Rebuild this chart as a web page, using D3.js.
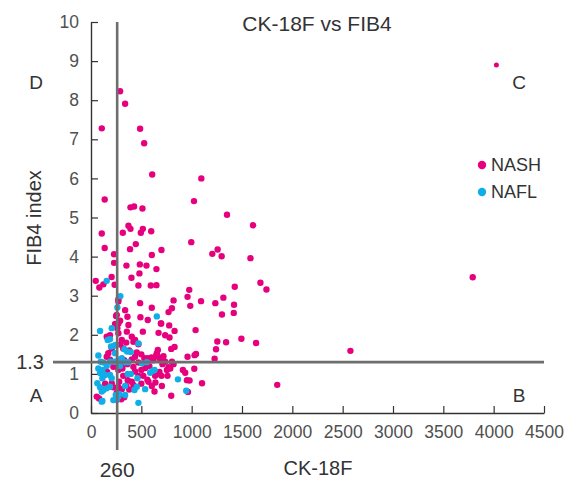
<!DOCTYPE html>
<html>
<head>
<meta charset="utf-8">
<script src="https://cdn.jsdelivr.net/npm/d3@7"></script>
<style>
  body { margin: 0; background: #fff; }
  svg text { font-family: "Liberation Sans", Arial, sans-serif; }
</style>
</head>
<body>
<div id="chart"></div>
<script>
///////////////////////////////////////////////////////////////////////////
//////////////////////////// data /////////////////////////////////////////
///////////////////////////////////////////////////////////////////////////

// [CK-18F, FIB4]
const nashPoints = [
  [289,8.23],[339,7.91],[107,7.28],[488,7.27],[528,6.90],[608,6.10],[1096,6.00],[136,5.46],
  [1023,5.42],[392,5.26],[428,5.28],[511,5.23],[1351,5.07],[1610,4.80],[372,4.79],[392,4.71],
  [515,4.71],[495,4.61],[598,4.65],[316,4.61],[107,4.59],[4027,8.90],[3792,3.47],[2577,1.59],
  [136,4.22],[996,4.37],[445,4.32],[388,4.19],[700,4.17],[229,4.06],[604,4.04],[1205,4.07],
  [1258,4.18],[1298,4.01],[1584,3.96],[229,3.84],[352,3.77],[485,3.80],[551,3.77],[650,3.68],
  [205,3.48],[47,3.38],[83,3.21],[123,3.29],[235,3.28],[402,3.46],[481,3.57],[471,3.26],
  [594,3.26],[650,3.27],[976,3.15],[959,2.97],[1428,3.23],[1683,3.33],[1743,3.16],[1315,2.95],
  [820,2.88],[1093,2.86],[272,2.91],[986,2.74],[1235,2.81],[1421,2.77],[1301,2.52],[1418,2.56],
  [1255,1.83],[1342,1.81],[1494,1.90],[1640,1.79],[1242,1.63],[1228,1.39],[1850,0.72],[1039,2.12],
  [1029,1.48],[1043,1.51],[959,1.44],[1026,1.13],[1103,0.76],[913,1.10],[936,1.03],[953,0.84],
  [979,0.83],[963,0.54],[804,2.68],[770,2.58],[697,2.29],[777,2.24],[830,2.10],[671,2.05],
  [737,1.99],[780,1.93],[797,1.64],[830,1.69],[664,1.61],[648,1.47],[677,1.42],[737,1.31],
  [804,1.31],[820,1.25],[770,1.17],[754,1.10],[787,1.14],[704,0.69],[797,0.44],[488,2.81],
  [604,2.69],[564,2.38],[491,2.45],[515,2.08],[256,2.51],[239,2.28],[289,2.36],[339,2.63],
  [362,2.46],[372,2.25],[272,2.04],[306,1.87],[356,2.08],[405,1.95],[272,2.85],[272,2.29],
  [189,1.99],[172,1.91],[421,1.82],[471,1.76],[438,1.87],[172,1.53],[156,1.44],[189,1.36],
  [405,1.37],[438,1.44],[471,1.29],[654,1.53],[222,1.18],[272,1.10],[312,1.14],[421,1.18],
  [438,1.06],[471,0.95],[637,0.95],[654,1.00],[365,0.84],[405,0.80],[421,0.72],[206,0.76],
  [222,0.66],[571,0.80],[604,0.69],[272,0.66],[306,0.61],[256,0.52],[631,0.55],[57,0.42],
  [80,0.37],[156,1.95],[206,1.65],[290,1.75],[320,1.65],[350,1.80],[380,1.60],[455,1.55],
  [500,1.50],[530,1.40],[560,1.40],[600,1.42],[620,1.35],[580,1.20],[540,1.15],[500,1.10],
  [360,1.25],[330,1.35],[300,1.25],[160,1.05],[140,0.75],[280,0.80],[320,0.95],[350,0.70],
  [380,0.60],[330,0.40],[300,0.35],[500,0.75],[520,0.95],[560,0.85],[640,0.78],[680,1.05],
  [710,1.25],[690,1.35],[720,1.45],[760,0.95],[700,0.95],[249,2.48],[262,2.17],[694,2.29]
];

const naflPoints = [
  [156,3.38],[292,2.99],[262,2.70],[654,2.47],[90,2.10],[206,2.17],[166,1.87],[189,1.89],
  [229,1.72],[246,1.74],[332,1.63],[359,1.57],[395,1.56],[471,1.78],[73,1.47],[306,1.40],
  [97,1.31],[123,1.29],[189,1.31],[232,1.31],[272,1.36],[346,1.30],[372,1.30],[505,1.27],
  [555,1.30],[73,1.14],[113,1.10],[90,1.02],[139,0.97],[113,0.89],[189,0.97],[206,0.89],
  [365,1.00],[395,1.00],[461,0.89],[588,1.03],[614,1.08],[631,1.10],[538,0.61],[63,0.76],
  [90,0.66],[123,0.59],[156,0.63],[189,0.67],[107,0.55],[246,0.46],[272,0.42],[256,0.33],
  [113,0.31],[339,0.46],[432,0.59],[455,0.67],[471,0.26],[864,0.86],[946,0.57],[199,1.70],
  [239,1.53],[339,0.69],[279,0.49],[222,0.33],[107,0.29],[156,1.20],[289,1.20]
];

const xTicks = [0, 500, 1000, 1500, 2000, 2500, 3000, 3500, 4000, 4500];
const yTicks = [0, 1, 2, 3, 4, 5, 6, 7, 8, 9, 10];
const ckCutoff = 260;
const fibCutoff = 1.3;
const quadrants = [
  { label: "D", x: 0, y: 10 },
  { label: "C", x: 1, y: 10 },
  { label: "A", x: 0, y: 0 },
  { label: "B", x: 1, y: 0 }
];
const series = ["NASH", "NAFL"];
const colors = ["#e6007e", "#10aee8"];

///////////////////////////////////////////////////////////////////////////
//////////////////////////// svg + scales /////////////////////////////////
///////////////////////////////////////////////////////////////////////////

const width = 571;
const height = 479;
const margin = { top: 22, right: 27, bottom: 66, left: 91 };

const svg = d3.select("#chart")
  .append("svg")
  .attr("width", width)
  .attr("height", height);

const xScale = d3.scaleLinear()
  .domain([0, 4500])
  .range([margin.left, width - margin.right]);

const yScale = d3.scaleLinear()
  .domain([0, 10])
  .range([height - margin.bottom, margin.top]);

const colorScale = d3.scaleOrdinal().domain(series).range(colors);

///////////////////////////////////////////////////////////////////////////
//////////////////////////// axes /////////////////////////////////////////
///////////////////////////////////////////////////////////////////////////

const xAxis = d3.axisBottom(xScale)
  .tickValues(xTicks)
  .tickFormat(d3.format("d"))
  .tickSizeInner(-7)
  .tickSizeOuter(0)
  .tickPadding(13);

const yAxis = d3.axisLeft(yScale)
  .tickValues(yTicks)
  .tickFormat(d3.format("d"))
  .tickSizeInner(-7)
  .tickSizeOuter(0)
  .tickPadding(12);

const gx = svg.append("g")
  .attr("transform", `translate(0,${yScale(0)})`)
  .call(xAxis);

const gy = svg.append("g")
  .attr("transform", `translate(${xScale(0)},0)`)
  .call(yAxis);

[gx, gy].forEach((g) => {
  g.select(".domain").attr("stroke", "#333").attr("stroke-width", 1.4);
  g.selectAll(".tick line").attr("stroke", "#333").attr("stroke-width", 1.2);
  g.selectAll(".tick text")
    .attr("fill", "#505050")
    .style("font-size", "17.5px")
    .style("font-family", '"Liberation Sans", Arial, sans-serif');
});

///////////////////////////////////////////////////////////////////////////
//////////////////////////// dots /////////////////////////////////////////
///////////////////////////////////////////////////////////////////////////

svg.append("g")
  .selectAll("circle")
  .data(nashPoints)
  .enter()
  .append("circle")
  .attr("cx", (d) => xScale(d[0]))
  .attr("cy", (d) => yScale(d[1]))
  .attr("r", (d) => (d[0] > 4000 ? 2.5 : 3.2))
  .attr("fill", colorScale("NASH"));

svg.append("g")
  .selectAll("circle")
  .data(naflPoints)
  .enter()
  .append("circle")
  .attr("cx", (d) => xScale(d[0]))
  .attr("cy", (d) => yScale(d[1]))
  .attr("r", 3.2)
  .attr("fill", colorScale("NAFL"));

///////////////////////////////////////////////////////////////////////////
//////////////////////////// cut-off lines ////////////////////////////////
///////////////////////////////////////////////////////////////////////////

svg.append("line")
  .attr("x1", xScale(ckCutoff))
  .attr("x2", xScale(ckCutoff))
  .attr("y1", yScale(10))
  .attr("y2", yScale(0) + 37)
  .attr("stroke", "#6e6e6e")
  .attr("stroke-width", 2.6);

svg.append("line")
  .attr("x1", xScale(0) - 38)
  .attr("x2", xScale(4500))
  .attr("y1", yScale(fibCutoff))
  .attr("y2", yScale(fibCutoff))
  .attr("stroke", "#6e6e6e")
  .attr("stroke-width", 2.6);

svg.append("text")
  .attr("x", xScale(0) - 47)
  .attr("y", yScale(fibCutoff))
  .attr("dy", "0.36em")
  .attr("text-anchor", "end")
  .attr("fill", "#333")
  .style("font-size", "20px")
  .text(fibCutoff);

svg.append("text")
  .attr("x", xScale(ckCutoff))
  .attr("y", height - 2.5)
  .attr("text-anchor", "middle")
  .attr("fill", "#333")
  .style("font-size", "21px")
  .text(ckCutoff);

// quadrant letters
svg.selectAll("text.quad")
  .data(quadrants)
  .enter()
  .append("text")
  .classed("quad", true)
  .attr("x", (d) => (d.x === 0 ? 36 : 519))
  .attr("y", (d) => (d.y === 10 ? 89 : 402))
  .attr("text-anchor", "middle")
  .attr("fill", "#333")
  .style("font-size", "19px")
  .text((d) => d.label);

///////////////////////////////////////////////////////////////////////////
//////////////////////////// titles + legend //////////////////////////////
///////////////////////////////////////////////////////////////////////////

svg.append("text")
  .attr("x", 317)
  .attr("y", 31)
  .attr("text-anchor", "middle")
  .attr("fill", "#333")
  .style("font-size", "21px")
  .text("CK-18F vs FIB4");

svg.append("text")
  .attr("x", 318)
  .attr("y", 475)
  .attr("text-anchor", "middle")
  .attr("fill", "#333")
  .style("font-size", "20px")
  .text("CK-18F");

svg.append("text")
  .attr("transform", "translate(41,218) rotate(-90)")
  .attr("text-anchor", "middle")
  .attr("fill", "#333")
  .style("font-size", "20px")
  .text("FIB4 index");

const legend = svg.selectAll("g.legend")
  .data(series)
  .enter()
  .append("g")
  .classed("legend", true)
  .attr("transform", (d, i) => `translate(482,${165 + i * 27})`);

legend.append("circle")
  .attr("r", 4.2)
  .attr("fill", (d) => colorScale(d));

legend.append("text")
  .attr("x", 9)
  .attr("dy", "0.36em")
  .attr("fill", "#333")
  .style("font-size", "18px")
  .text((d) => d);
</script>
</body>
</html>
